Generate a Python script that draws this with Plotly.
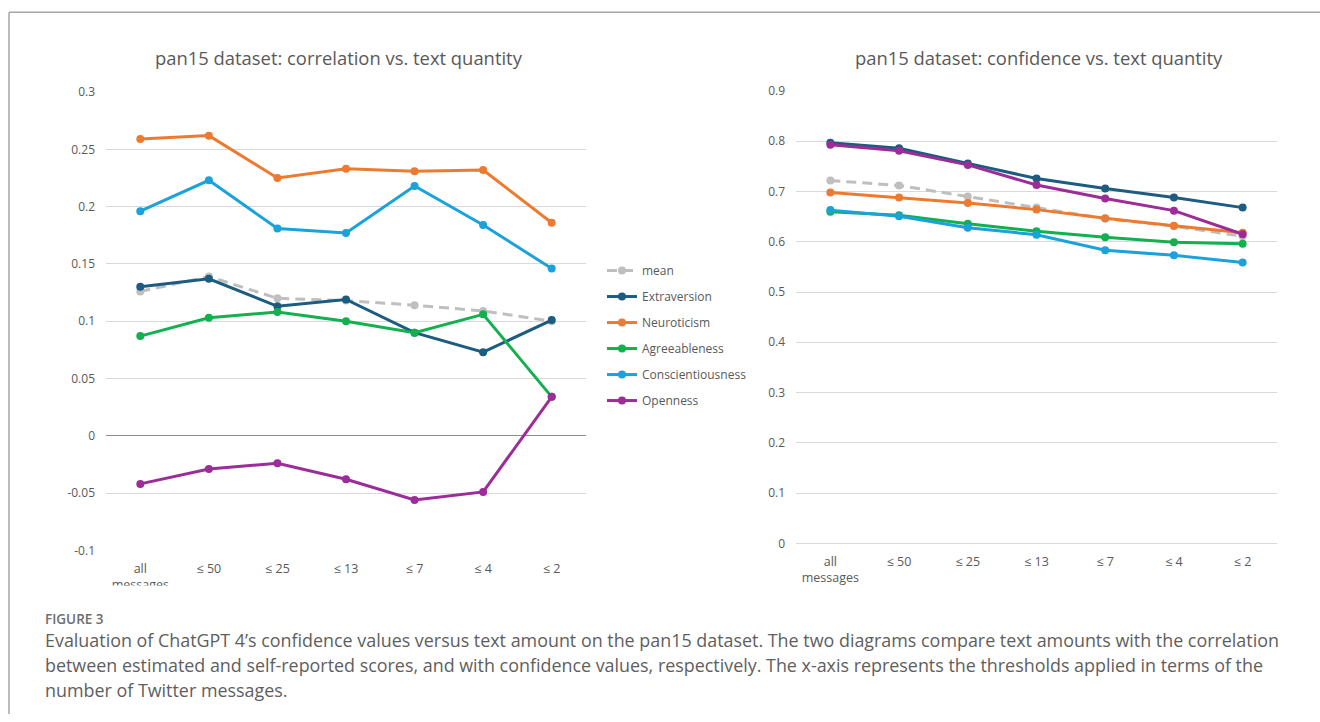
import plotly.graph_objects as go

W, H = 1320, 722

# ---- data -------------------------------------------------------------
categories = ["all<br>messages", "≤ 50", "≤ 25", "≤ 13", "≤ 7", "≤ 4", "≤ 2"]
series_names = ["mean", "Extraversion", "Neuroticism", "Agreeableness",
                "Conscientiousness", "Openness"]

# correlation between estimated and self-reported scores
corr_mean = [0.126, 0.139, 0.120, 0.118, 0.114, 0.109, 0.100]
corr_extraversion = [0.130, 0.137, 0.113, 0.119, 0.090, 0.073, 0.101]
corr_neuroticism = [0.259, 0.262, 0.225, 0.233, 0.231, 0.232, 0.186]
corr_agreeableness = [0.087, 0.103, 0.108, 0.100, 0.090, 0.106, 0.034]
corr_conscientiousness = [0.196, 0.223, 0.181, 0.177, 0.218, 0.184, 0.146]
corr_openness = [-0.042, -0.029, -0.024, -0.038, -0.056, -0.049, 0.034]

# confidence values
conf_mean = [0.722, 0.712, 0.690, 0.668, 0.646, 0.631, 0.611]
conf_extraversion = [0.797, 0.786, 0.756, 0.726, 0.706, 0.688, 0.668]
conf_neuroticism = [0.698, 0.688, 0.677, 0.664, 0.647, 0.632, 0.618]
conf_agreeableness = [0.660, 0.653, 0.636, 0.621, 0.609, 0.599, 0.596]
conf_conscientiousness = [0.663, 0.651, 0.628, 0.614, 0.583, 0.573, 0.559]
conf_openness = [0.793, 0.781, 0.753, 0.713, 0.686, 0.662, 0.615]

corr_ticks = [-0.1, -0.05, 0, 0.05, 0.1, 0.15, 0.2, 0.25, 0.3]
corr_ticktext = ["-0.1", "-0.05", "0", "0.05", "0.1", "0.15", "0.2", "0.25", "0.3"]
conf_ticks = [0, 0.1, 0.2, 0.3, 0.4, 0.5, 0.6, 0.7, 0.8, 0.9]
conf_ticktext = ["0", "0.1", "0.2", "0.3", "0.4", "0.5", "0.6", "0.7", "0.8", "0.9"]

titles = ["pan15 dataset: correlation vs. text quantity",
          "pan15 dataset: confidence vs. text quantity"]
fig_label = "FIGURE 3"
caption_lines = [
    "Evaluation of ChatGPT 4’s confidence values versus text amount on the pan15 dataset. "
    "The two diagrams compare text amounts with the correlation",
    "between estimated and self-reported scores, and with confidence values, respectively. "
    "The x-axis represents the thresholds applied in terms of the",
    "number of Twitter messages.",
]

# ---- styling ----------------------------------------------------------
colors = ["#BFBFBF", "#1B5C80", "#EE7A30", "#12B04E", "#1AA2DA", "#9C2C98"]
dashes = ["10px,6px", "solid", "solid", "solid", "solid", "solid"]
FONT = "Open Sans"
TXT = "#595959"
GRID = "#D9D9D9"


def px_x(p):
    return p / W


def px_y(p):
    return 1 - p / H


corr_series = [corr_mean, corr_extraversion, corr_neuroticism, corr_agreeableness,
               corr_conscientiousness, corr_openness]
conf_series = [conf_mean, conf_extraversion, conf_neuroticism, conf_agreeableness,
               conf_conscientiousness, conf_openness]

fig = go.Figure()

for i, (name, vals) in enumerate(zip(series_names, corr_series)):
    fig.add_trace(go.Scatter(
        x=categories, y=vals, name=name, mode="lines+markers",
        line=dict(color=colors[i], width=3, dash=dashes[i]),
        marker=dict(color=colors[i], size=8),
        legendgroup=name, xaxis="x", yaxis="y",
    ))

for i, (name, vals) in enumerate(zip(series_names, conf_series)):
    fig.add_trace(go.Scatter(
        x=categories, y=vals, name=name, mode="lines+markers",
        line=dict(color=colors[i], width=3, dash=dashes[i]),
        marker=dict(color=colors[i], size=8),
        legendgroup=name, showlegend=False, xaxis="x2", yaxis="y2",
    ))

axis_font = dict(family=FONT, size=12, color=TXT)
xtick_font = dict(family=FONT, size=12.5, color=TXT)

fig.update_layout(
    width=W, height=H,
    margin=dict(l=0, r=0, t=0, b=0),
    paper_bgcolor="white", plot_bgcolor="white",
    font=dict(family=FONT, color=TXT),
    showlegend=True,
    legend=dict(
        x=px_x(602), y=px_y(253), xanchor="left", yanchor="top",
        font=dict(family=FONT, size=12, color=TXT),
        tracegroupgap=7, itemwidth=30, bgcolor="rgba(0,0,0,0)",
    ),
    xaxis=dict(
        domain=[px_x(106), px_x(586)], anchor="y", range=[-0.5, 6.5],
        showgrid=False, showline=False, zeroline=False, ticks="",
        tickfont=xtick_font, tickangle=0, ticklabelstandoff=9,
    ),
    yaxis=dict(
        domain=[px_y(554.4), px_y(85.1)], anchor="x",
        range=[-0.1, 0.3], tickvals=corr_ticks, ticktext=corr_ticktext,
        showgrid=True, gridcolor=GRID, gridwidth=1,
        zeroline=True, zerolinecolor="#8C8C8C", zerolinewidth=1,
        showline=False, ticks="", tickfont=axis_font, ticklabelstandoff=10,
    ),
    xaxis2=dict(
        domain=[px_x(796), px_x(1277)], anchor="y2", range=[-0.5, 6.5],
        showgrid=False, showline=False, zeroline=False, ticks="",
        tickfont=xtick_font, tickangle=0, ticklabelstandoff=9,
    ),
    yaxis2=dict(
        domain=[px_y(547.2), px_y(84.0)], anchor="x2",
        range=[0, 0.9], tickvals=conf_ticks, ticktext=conf_ticktext,
        showgrid=True, gridcolor=GRID, gridwidth=1,
        zeroline=True, zerolinecolor=GRID, zerolinewidth=1,
        showline=False, ticks="", tickfont=axis_font, ticklabelstandoff=10,
    ),
)

# chart titles
for title, cx in zip(titles, [339, 1039]):
    fig.add_annotation(
        text=title, x=px_x(cx), y=px_y(49.3), xref="paper", yref="paper",
        xanchor="center", yanchor="middle", showarrow=False,
        font=dict(family=FONT, size=18.4, color=TXT),
    )

# figure label and caption
fig.add_annotation(
    text=fig_label, x=px_x(43), y=px_y(624.9), xref="paper", yref="paper",
    xanchor="left", yanchor="middle", showarrow=False,
    font=dict(family=FONT, size=13.5, color="#6E6E6E", weight=600),
)
for k, line in enumerate(caption_lines):
    fig.add_annotation(
        text=line, x=px_x(43), y=px_y(646.4 + 25.6 * k), xref="paper", yref="paper",
        xanchor="left", yanchor="middle", showarrow=False,
        font=dict(family=FONT, size=17.9, color="#5E5E5E"),
    )

# panel frame (top and left edges) and the cropped lower edge of the left chart
fig.add_shape(type="line", xref="paper", yref="paper",
              x0=px_x(9), x1=1, y0=px_y(3.3), y1=px_y(3.3),
              line=dict(color="#A6A6A6", width=1.5))
fig.add_shape(type="line", xref="paper", yref="paper",
              x0=px_x(9), x1=px_x(9), y0=px_y(3.3), y1=0,
              line=dict(color="#A6A6A6", width=1.5))
fig.add_shape(type="rect", xref="paper", yref="paper", layer="above",
              x0=px_x(90), x1=px_x(600), y0=px_y(604), y1=px_y(590.5),
              line=dict(width=0), fillcolor="white")

fig.write_html("out.html")
